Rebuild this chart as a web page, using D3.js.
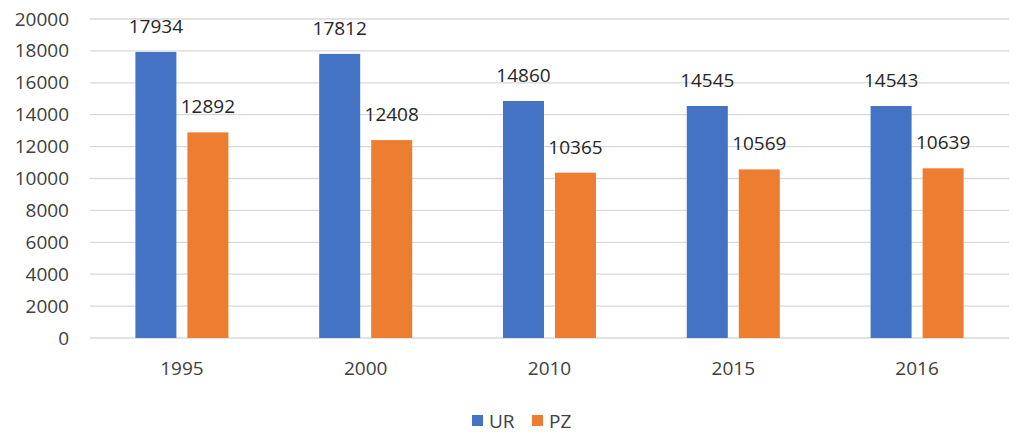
<!DOCTYPE html>
<html><head><meta charset="utf-8">
<script src="https://cdn.jsdelivr.net/npm/d3@7"></script>
<style>body{margin:0;background:#fff;font-family:"Open Sans",Lato,sans-serif;}</style>
</head><body>
<svg id="c" width="1023" height="436"></svg>
<script>
const categories = ["1995","2000","2010","2015","2016"];
const seriesNames = ["UR","PZ"];
const UR = [17934,17812,14860,14545,14543];
const PZ = [12892,12408,10365,10569,10639];
const yTicks = [0,2000,4000,6000,8000,10000,12000,14000,16000,18000,20000];
const colors = ["#4472C4","#ED7D31"];

(function(){
const svg = d3.select("#c");
const pL = 90, pR = 1009, pT = 19, pB = 338;
const x = d3.scaleBand().domain(categories).range([pL,pR]);
const y = d3.scaleLinear().domain([0,20000]).range([pB,pT]);
const barW = 41, gap = 11;
const fs = 19;

svg.append("g").selectAll("line").data(yTicks).join("line")
  .attr("x1",pL).attr("x2",pR)
  .attr("y1",d=>y(d)).attr("y2",d=>y(d))
  .attr("stroke","#d9d9d9").attr("stroke-width",1.3);

const yAxis = d3.axisLeft(y).tickValues(yTicks).tickSize(0).tickPadding(0).tickFormat(d3.format("d"));
svg.append("g").attr("transform","translate(69,0)").call(yAxis)
  .call(g=>g.select(".domain").remove())
  .selectAll("text").attr("font-size",fs).attr("fill","#404040").attr("font-family","Open Sans");

const xAxis = d3.axisBottom(x).tickSize(0).tickPadding(0);
svg.append("g").attr("transform",`translate(0,${pB+30})`).call(xAxis)
  .call(g=>g.select(".domain").remove())
  .selectAll("text").attr("font-size",fs).attr("fill","#404040").attr("font-family","Open Sans").attr("dy","0.35em");

const data = [UR,PZ];
data.forEach((vals,si)=>{
  const off = si===0 ? -(gap/2+barW) : gap/2;
  const g = svg.append("g");
  g.selectAll("rect").data(vals).join("rect")
    .attr("x",(d,i)=>x(categories[i])+x.bandwidth()/2+off)
    .attr("width",barW)
    .attr("y",d=>y(d)).attr("height",d=>y(0)-y(d))
    .attr("fill",colors[si]);
  g.selectAll("text").data(vals).join("text")
    .attr("x",(d,i)=>x(categories[i])+x.bandwidth()/2+off+barW/2)
    .attr("y",d=>y(d)-19)
    .attr("text-anchor","middle")
    .attr("font-size",fs).attr("fill","#262626").attr("font-family","Open Sans")
    .text(d=>d);
});

const legend = svg.append("g");
const lx = [472,532];
seriesNames.forEach((n,i)=>{
  legend.append("rect").attr("x",lx[i]).attr("y",415).attr("width",11).attr("height",11).attr("fill",colors[i]);
  legend.append("text").attr("x",lx[i]+17).attr("y",421).attr("dy","0.35em")
    .attr("font-size",fs).attr("fill","#404040").attr("font-family","Open Sans").text(n);
});
})();
</script>
</body></html>
